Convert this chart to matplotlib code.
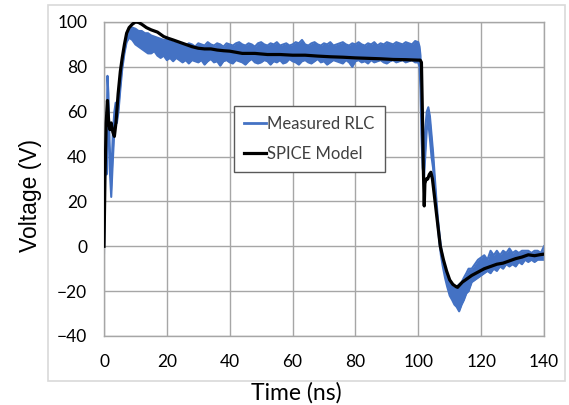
import numpy as np
import matplotlib
matplotlib.use("Agg")
from matplotlib import pyplot as plt
from matplotlib.patches import Rectangle

# ---- data ----
# measured waveform: lower / upper edge of the noisy trace
meas_t = [0.0, 0.2, 0.5, 0.8, 1.1, 1.4, 1.8, 2.3, 2.8, 3.3, 3.7, 4.1, 4.6, 5.2, 5.8,
          6.5, 7.2, 8.0, 9.0, 10, 11, 12, 13, 14, 15, 16, 17, 18, 19, 20,
          21, 22, 23, 24, 25, 26, 27, 28, 29, 30, 31, 32, 33, 34, 35, 36, 37, 38, 39, 40,
          41, 42, 43, 44, 45, 46, 47, 48, 49, 50, 51, 52, 53, 54, 55, 56, 57, 58, 59, 60,
          61, 62, 63, 64, 65, 66, 67, 68, 69, 70, 71, 72, 73, 74, 75, 76, 77, 78, 79, 80,
          81, 82, 83, 84, 85, 86, 87, 88, 89, 90, 91, 92, 93, 94, 95, 96, 97, 98, 99, 100,
          100.4, 100.7, 101.0, 101.4, 101.8, 102.2, 102.7, 103.2, 103.7, 104.2, 104.7,
          105.2, 105.7, 106.2, 106.7, 107.2, 107.8, 108.5, 109.2, 110, 110.8, 111.5,
          112.2, 113, 113.8, 114.5, 115.3, 116, 117, 118, 119, 120, 121, 122, 123, 124,
          125, 126, 127, 128, 129, 130, 131, 132, 133, 134, 135, 136, 137, 138, 139, 140]
meas_lo = [-3, 30, 50, 32, 60, 55, 35, 22, 38, 52, 58, 55, 60, 70, 79,
           86, 91, 93, 92, 90, 89, 88, 87, 86, 86, 87, 85, 84, 85, 83,
           84, 82.5, 84, 83, 82, 83, 81.5, 83, 82.5, 82, 83, 81, 82.5, 83.5, 82, 82.5, 80.5, 82.5, 83, 82,
           81.5, 83, 82.5, 82, 81, 82.5, 83.5, 82, 81.5, 82, 83, 82.5, 81, 82.5, 82, 83, 81.5, 82, 83.5, 82.5,
           82, 81, 82.5, 83, 82, 81.5, 82.5, 83.5, 82, 82.5, 81, 82, 83, 82.5, 82, 81.5, 83, 82, 80, 82.5,
           83, 82, 82.5, 81.5, 83, 82, 82.5, 83, 82, 81.5, 82.5, 83, 82, 82.5, 83, 82, 82.5, 83, 82, 82,
           80, 70, 50, 35, 30, 40, 52, 55, 48, 40, 35,
           26, 17, 9, 2, -4, -9, -14, -18, -22, -24, -26,
           -27, -29, -26, -24, -21, -20, -16, -15, -14, -13, -12, -11, -12, -10,
           -11, -9, -10, -8, -9, -8, -9, -7, -8, -6, -7, -6, -7, -6, -6, -6]
meas_hi = [1, 40, 58, 45, 76, 68, 45, 30, 50, 60, 64, 60, 66, 74, 82,
           89, 94, 97, 97.5, 97, 96, 96, 95, 95, 94, 93.5, 93, 92.5, 92, 92,
           91.5, 91, 90.5, 91, 90, 89.5, 90.5, 90, 89, 90.5, 90, 89.5, 91, 90, 89.5, 90.5, 90, 89, 90.5, 90,
           89.5, 90.5, 91, 90, 89.5, 90.5, 90, 89, 90.5, 91, 90, 89.5, 90.5, 90, 91, 89.5, 90, 90.5, 89.5, 90,
           91, 90.5, 92, 90, 89.5, 90.5, 91, 90, 89.5, 90.5, 90, 91, 89.5, 90, 90.5, 91, 90, 89.5, 90.5, 90,
           91, 90, 89.5, 90.5, 90, 91, 89.5, 90.5, 90, 91, 90.5, 90, 91, 90.5, 90, 91, 90.5, 90, 91.5, 91,
           89, 85, 65, 50, 42, 52, 60, 62, 58, 50, 42,
           32, 22, 13, 6, 0, -5, -10, -14, -16, -18, -19,
           -18, -17, -16, -14, -12, -10, -10, -8, -6, -5, -4, -6, -2, -4,
           -2, -4, -2, -3, -1, -3, -2, -3, -2, -2, -2, -3, -2, -2, -3, 0]

# SPICE model
spice_t = [0.0, 0.3, 0.7, 1.1, 1.5, 1.9, 2.3, 2.8, 3.3, 3.8, 4.5, 5.2, 5.8, 6.5, 7.2,
           8, 9, 10, 11, 12, 13.5, 15, 17, 19, 20.5, 22, 24, 26, 28, 30, 32, 34, 36, 38, 40,
           44, 48, 52, 56, 60, 64, 68, 72, 76, 80, 84, 88, 92, 96, 100, 100.6,
           101, 101.3, 101.6, 101.9, 102.1, 102.5, 103, 103.5, 104, 104.5, 105, 105.5,
           106, 106.5, 107, 107.5, 108, 109, 110, 111, 112, 112.5, 113, 114, 115.5,
           117, 119, 121, 123, 125, 127, 129, 131, 133, 135, 137, 138.5, 140]
spice_v = [0, 30, 55, 65, 55, 52, 55, 51, 49, 55, 68, 78, 84, 90, 95,
           97.5, 99, 100, 99.8, 99, 97.5, 96.5, 95.5, 93.5, 92.7, 92, 91, 90, 89, 88.3, 88, 88, 87.5, 87.2, 87,
           86, 86, 85.5, 85.5, 85.2, 85.2, 84.8, 84.5, 84.3, 84, 83.8, 83.6, 83.3, 83.2, 83, 83,
           82, 60, 35, 18, 28, 30, 30, 32, 33, 30, 24, 18,
           12, 6, 0, -3, -6, -11, -15, -17, -18, -18.3, -17.5, -16, -14.5,
           -13, -11.5, -10, -9, -8, -7.5, -6.5, -5.5, -4.8, -3.8, -4.2, -3.8, -3.5]

x_ticks = [0, 20, 40, 60, 80, 100, 120, 140]
y_ticks = [-40, -20, 0, 20, 40, 60, 80, 100]

blue = "#4472c4"
grid_c = "#a6a6a6"
font = ["Lato", "DejaVu Sans"]

fig = plt.figure(figsize=(5.69, 4.05), dpi=100)
fig.patches.append(Rectangle((48 / 569, 1 - 381 / 405), 517 / 569, 376 / 405,
                             transform=fig.transFigure, fill=False,
                             edgecolor="#d9d9d9", lw=1.2))

ax = fig.add_axes([104 / 569, 1 - 336 / 405, 440 / 569, 314 / 405])
ax.fill_between(meas_t, meas_lo, meas_hi, color=blue, lw=0, zorder=2)
ax.plot(meas_t, meas_lo, color=blue, lw=1.5, zorder=2)
ax.plot(meas_t, meas_hi, color=blue, lw=1.5, zorder=2)
ax.plot(spice_t, spice_v, color="black", lw=2.3, zorder=3)

# legend handles
h1, = ax.plot([], [], color=blue, lw=2)
h2, = ax.plot([], [], color="black", lw=2.3)

ax.set_xlim(0, 140)
ax.set_ylim(-40, 100)
ax.set_xticks(x_ticks)
ax.set_yticks(y_ticks)
ax.grid(True, color=grid_c, lw=1.0, zorder=0)
ax.set_axisbelow(True)
for s in ax.spines.values():
    s.set_color(grid_c)
    s.set_linewidth(1.0)
ax.tick_params(length=0, labelsize=12.5)
ax.tick_params(axis="y", pad=12)
ax.tick_params(axis="x", pad=13)
for lab in ax.get_xticklabels() + ax.get_yticklabels():
    lab.set_family(font)

leg = ax.legend([h1, h2], ["Measured RLC", "SPICE Model"],
                loc="upper left", bbox_to_anchor=(234 / 569, 1 - 106 / 405),
                bbox_transform=fig.transFigure, fancybox=False, framealpha=1,
                edgecolor="#595959", handlelength=1.3, handletextpad=0.1,
                labelspacing=0.85, borderpad=0.6, borderaxespad=0,
                prop={"family": font, "size": 12})
leg.get_frame().set_linewidth(1.0)
for t in leg.get_texts():
    t.set_color("#404040")

fig.text(30 / 569, 1 - 196 / 405, "Voltage (V)", rotation=90, ha="center", va="center",
         fontsize=16.5, family=["Liberation Sans", "DejaVu Sans"])
fig.text(296 / 569, 1 - 393 / 405, "Time (ns)", ha="center", va="center",
         fontsize=16.5, family=font)

fig.savefig("out.png", dpi=100)
